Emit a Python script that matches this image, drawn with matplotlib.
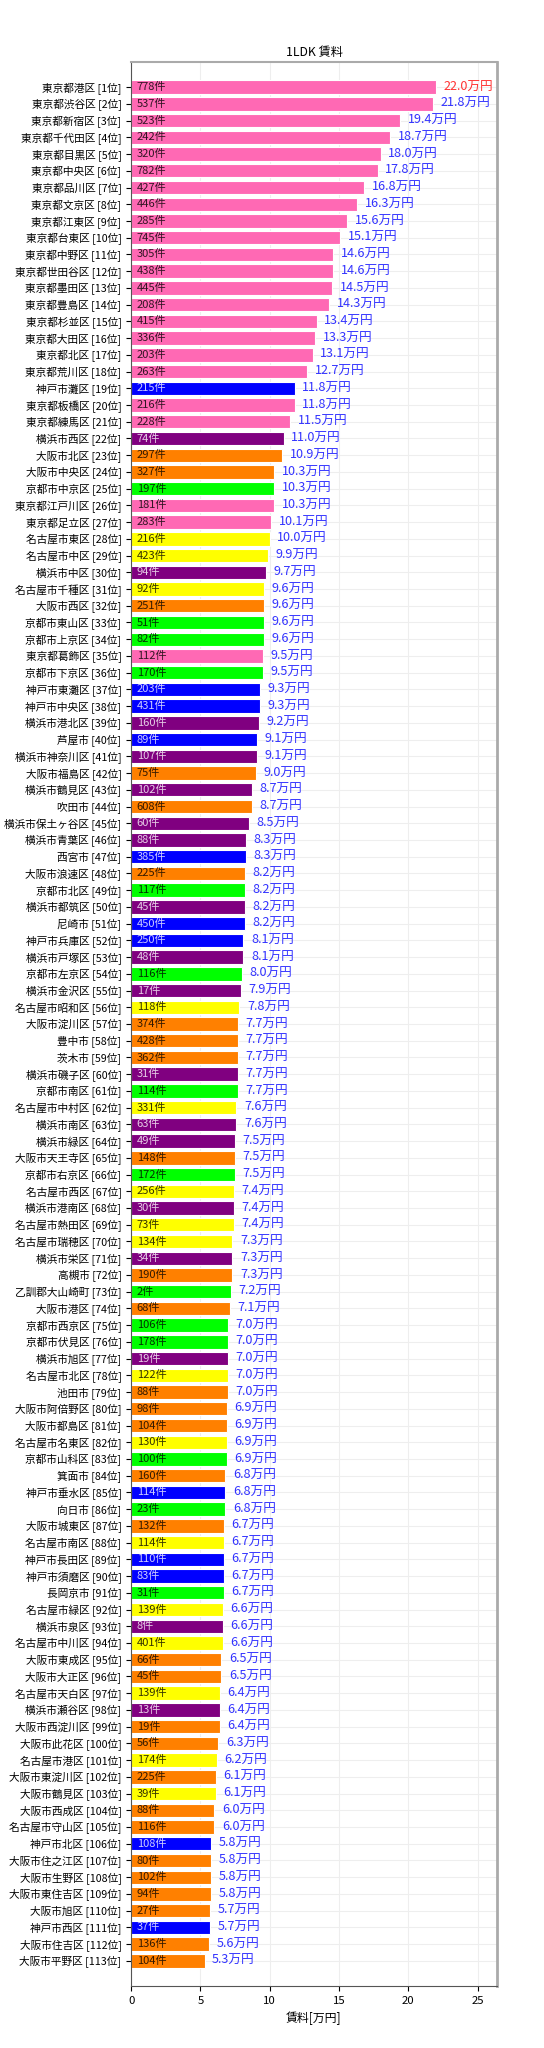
import matplotlib
matplotlib.use('Agg')
import matplotlib.pyplot as plt
import numpy as np

plt.rcParams['font.family'] = ['Noto Sans CJK JP', 'DejaVu Sans']

names = [
    '東京都港区', '東京都渋谷区', '東京都新宿区', '東京都千代田区', '東京都目黒区',
    '東京都中央区', '東京都品川区', '東京都文京区', '東京都江東区', '東京都台東区',
    '東京都中野区', '東京都世田谷区', '東京都墨田区', '東京都豊島区', '東京都杉並区',
    '東京都大田区', '東京都北区', '東京都荒川区', '神戸市灘区', '東京都板橋区',
    '東京都練馬区', '横浜市西区', '大阪市北区', '大阪市中央区', '京都市中京区',
    '東京都江戸川区', '東京都足立区', '名古屋市東区', '名古屋市中区', '横浜市中区',
    '名古屋市千種区', '大阪市西区', '京都市東山区', '京都市上京区', '東京都葛飾区',
    '京都市下京区', '神戸市東灘区', '神戸市中央区', '横浜市港北区', '芦屋市',
    '横浜市神奈川区', '大阪市福島区', '横浜市鶴見区', '吹田市', '横浜市保土ヶ谷区',
    '横浜市青葉区', '西宮市', '大阪市浪速区', '京都市北区', '横浜市都筑区',
    '尼崎市', '神戸市兵庫区', '横浜市戸塚区', '京都市左京区', '横浜市金沢区',
    '名古屋市昭和区', '大阪市淀川区', '豊中市', '茨木市', '横浜市磯子区',
    '京都市南区', '名古屋市中村区', '横浜市南区', '横浜市緑区', '大阪市天王寺区',
    '京都市右京区', '名古屋市西区', '横浜市港南区', '名古屋市熱田区', '名古屋市瑞穂区',
    '横浜市栄区', '高槻市', '乙訓郡大山崎町', '大阪市港区', '京都市西京区',
    '京都市伏見区', '横浜市旭区', '名古屋市北区', '池田市', '大阪市阿倍野区',
    '大阪市都島区', '名古屋市名東区', '京都市山科区', '箕面市', '神戸市垂水区',
    '向日市', '大阪市城東区', '名古屋市南区', '神戸市長田区', '神戸市須磨区',
    '長岡京市', '名古屋市緑区', '横浜市泉区', '名古屋市中川区', '大阪市東成区',
    '大阪市大正区', '名古屋市天白区', '横浜市瀬谷区', '大阪市西淀川区', '大阪市此花区',
    '名古屋市港区', '大阪市東淀川区', '大阪市鶴見区', '大阪市西成区', '名古屋市守山区',
    '神戸市北区', '大阪市住之江区', '大阪市生野区', '大阪市東住吉区', '大阪市旭区',
    '神戸市西区', '大阪市住吉区', '大阪市平野区',
]

rent = [
    22.0, 21.8, 19.4, 18.7, 18.0, 17.8, 16.8, 16.3, 15.6, 15.1,
    14.6, 14.6, 14.5, 14.3, 13.4, 13.3, 13.1, 12.7, 11.8, 11.8,
    11.5, 11.0, 10.9, 10.3, 10.3, 10.3, 10.1, 10.0, 9.9, 9.7,
    9.6, 9.6, 9.6, 9.6, 9.5, 9.5, 9.3, 9.3, 9.2, 9.1,
    9.1, 9.0, 8.7, 8.7, 8.5, 8.3, 8.3, 8.2, 8.2, 8.2,
    8.2, 8.1, 8.1, 8.0, 7.9, 7.8, 7.7, 7.7, 7.7, 7.7,
    7.7, 7.6, 7.6, 7.5, 7.5, 7.5, 7.4, 7.4, 7.4, 7.3,
    7.3, 7.3, 7.2, 7.1, 7.0, 7.0, 7.0, 7.0, 7.0, 6.9,
    6.9, 6.9, 6.9, 6.8, 6.8, 6.8, 6.7, 6.7, 6.7, 6.7,
    6.7, 6.6, 6.6, 6.6, 6.5, 6.5, 6.4, 6.4, 6.4, 6.3,
    6.2, 6.1, 6.1, 6.0, 6.0, 5.8, 5.8, 5.8, 5.8, 5.7,
    5.7, 5.6, 5.3,
]

counts = [
    778, 537, 523, 242, 320, 782, 427, 446, 285, 745,
    305, 438, 445, 208, 415, 336, 203, 263, 215, 216,
    228, 74, 297, 327, 197, 181, 283, 216, 423, 94,
    92, 251, 51, 82, 112, 170, 203, 431, 160, 89,
    107, 75, 102, 608, 60, 88, 385, 225, 117, 45,
    450, 250, 48, 116, 17, 118, 374, 428, 362, 31,
    114, 331, 63, 49, 148, 172, 256, 30, 73, 134,
    34, 190, 2, 68, 106, 178, 19, 122, 88, 98,
    104, 130, 100, 160, 114, 23, 132, 114, 110, 83,
    31, 139, 8, 401, 66, 45, 139, 13, 19, 56,
    174, 225, 39, 88, 116, 108, 80, 102, 94, 27,
    37, 136, 104,
]

# T=東京 K=神戸圏 Y=横浜 O=大阪圏 Q=京都圏 N=名古屋
regions = (
    'TTTTTTTTTTTTTTTTTTKTTYOOQTTNNYNOQQTQKKYKYOYOYYKOQYKKYQYNOOOYQNYYOQNYNNYOQOQQYNOOONQOKQONKKQNYNOONYOONONOOKOOOOKOO'
)

region_colors = {
    'T': '#ff69b4',
    'K': '#0000ff',
    'Y': '#800080',
    'O': '#ff8000',
    'Q': '#00ff00',
    'N': '#ffff00',
}
dark = {'K', 'Y'}

n = len(names)
y = np.arange(n)
colors = [region_colors[r] for r in regions]
labels = ['%s [%d位]' % (nm, i + 1) for i, nm in enumerate(names)]

fig = plt.figure(figsize=(5.44, 20.48), dpi=100)
ax = fig.add_axes([0.241, 0.0303, 0.6726, 0.9394])

ax.barh(y, rent, height=0.8, color=colors, edgecolor='white', linewidth=0.8, zorder=2)

for i in range(n):
    tc = 'white' if regions[i] in dark else 'black'
    ax.text(0.4, y[i], '%d件' % counts[i], va='center', ha='left',
            fontsize=8, color=tc, alpha=0.8, zorder=3)
    vc = '#ff3333' if i == 0 else '#3333ff'
    ax.text(rent[i] + 0.55, y[i], '%.1f万円' % rent[i], va='center', ha='left',
            fontsize=9.1, color=vc, zorder=3)

ax.set_yticks(y)
ax.set_yticklabels(labels, fontsize=7.7)
ax.set_ylim(n + 0.5, -1.5)
ax.set_xlim(0, 26.4)
ax.set_xticks([0, 5, 10, 15, 20, 25])
ax.tick_params(axis='x', labelsize=8.2)
ax.set_xlabel('賃料[万円]', fontsize=8.6)
ax.set_title('1LDK 賃料', fontsize=8.8, pad=4)

ax.grid(True, color='#eeeeee', linewidth=0.8, zorder=0)
ax.set_axisbelow(True)
ax.spines['right'].set_color('#aaaaaa')
ax.spines['right'].set_linewidth(2)
ax.spines['top'].set_color('#aaaaaa')
ax.spines['top'].set_linewidth(1.5)
ax.spines['left'].set_color('#555555')
ax.spines['bottom'].set_color('#555555')

fig.savefig('out.png', dpi=100)
